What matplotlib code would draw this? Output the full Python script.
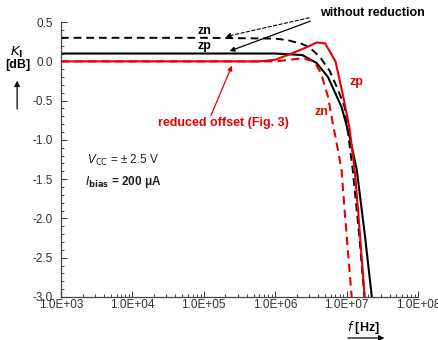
#!/usr/bin/env python3
# -*- coding: utf-8 -*-
"""Frequency response K_I of the zn / zp outputs, with and without offset reduction."""

import matplotlib
matplotlib.use("Agg")
import matplotlib.pyplot as plt
from matplotlib.ticker import FixedLocator, MultipleLocator, LogLocator, NullFormatter

plt.rcParams['font.family'] = ['Liberation Sans', 'DejaVu Sans']

# --- data ---
# black dashed: zn, without reduction
f_zn_plain = [1e3, 1e5, 1e6, 1.5e6, 2.4e6, 3.0e6, 4.2e6, 5.8e6, 7.5e6, 9.4e6, 1.22e7, 1.5e7, 1.78e7]
k_zn_plain = [0.30, 0.30, 0.29, 0.27, 0.22, 0.18, 0.06, -0.12, -0.35, -0.58, -1.38, -2.2, -3.0]
# black solid: zp, without reduction
f_zp_plain = [1e3, 1e5, 1e6, 1.6e6, 2.4e6, 3.8e6, 5.5e6, 8.5e6, 1.1e7, 1.39e7, 1.8e7, 2.26e7]
k_zp_plain = [0.10, 0.10, 0.10, 0.09, 0.08, -0.02, -0.20, -0.58, -0.95, -1.38, -2.2, -3.0]
# red solid: zp, reduced offset
f_zp_red = [1e3, 1e5, 6e5, 1.0e6, 1.7e6, 2.6e6, 3.8e6, 5.0e6, 7.0e6, 9.0e6, 1.1e7, 1.3e7, 1.45e7, 1.8e7]
k_zp_red = [0.0, 0.0, 0.0, 0.02, 0.10, 0.17, 0.24, 0.23, 0.0, -0.45, -0.85, -1.38, -1.9, -3.0]
# red dashed: zn, reduced offset
f_zn_red = [1e3, 1e5, 1e6, 1.6e6, 2.4e6, 3.5e6, 4.4e6, 5.5e6, 6.3e6, 7.3e6, 8.5e6, 9.4e6, 1.18e7]
k_zn_red = [0.0, 0.0, 0.0, 0.02, 0.04, 0.0, -0.15, -0.45, -0.75, -1.05, -1.38, -1.9, -3.0]

x_ticks = [1e3, 1e4, 1e5, 1e6, 1e7, 1e8]
x_tick_labels = ["1.0E+03", "1.0E+04", "1.0E+05", "1.0E+06", "1.0E+07", "1.0E+08"]
y_ticks = [0.5, 0.0, -0.5, -1.0, -1.5, -2.0, -2.5, -3.0]
y_tick_labels = ["0.5", "0.0", "-0.5", "-1.0", "-1.5", "-2.0", "-2.5", "-3.0"]

RED = '#e60000'


def main():
    fig = plt.figure(figsize=(4.39, 3.40), dpi=100)
    ax = fig.add_axes([0.139, 0.1265, 0.813, 0.8085])

    dash = (0, (4, 2.5))
    ax.plot(f_zn_plain, k_zn_plain, color='black', lw=1.4, linestyle=dash)
    ax.plot(f_zp_plain, k_zp_plain, color='black', lw=1.5)
    ax.plot(f_zn_red, k_zn_red, color=RED, lw=1.5, linestyle=dash)
    ax.plot(f_zp_red, k_zp_red, color=RED, lw=1.5)

    ax.set_xscale('log')
    ax.set_xlim(1e3, 1e8)
    ax.set_ylim(-3.0, 0.5)
    ax.xaxis.set_major_locator(FixedLocator(x_ticks))
    ax.set_xticklabels(x_tick_labels)
    ax.xaxis.set_minor_locator(LogLocator(base=10, subs=range(2, 10)))
    ax.xaxis.set_minor_formatter(NullFormatter())
    ax.set_yticks(y_ticks)
    ax.set_yticklabels(y_tick_labels)
    ax.yaxis.set_minor_locator(MultipleLocator(0.1))

    for side in ('top', 'right'):
        ax.spines[side].set_visible(False)
    for side in ('left', 'bottom'):
        ax.spines[side].set_color('#444444')
        ax.spines[side].set_linewidth(0.9)
    ax.tick_params(which='major', direction='in', length=4, width=0.8,
                   color='#444444', labelsize=8.5, labelcolor='#333333')
    ax.tick_params(which='minor', direction='in', length=2.5, width=0.7, color='#444444')
    ax.tick_params(axis='y', pad=6)
    ax.tick_params(axis='x', pad=1.5)

    # labels of the curves
    t = ax.transAxes
    ax.text(0.401, 0.967, "zn", transform=t, ha='center', va='center',
            fontsize=9, fontweight='bold')
    ax.text(0.401, 0.913, "zp", transform=t, ha='center', va='center',
            fontsize=9, fontweight='bold')
    ax.text(0.7255, 1.033, "without reduction", transform=t, ha='left', va='center',
            fontsize=9, fontweight='bold', clip_on=False)
    ax.annotate("", xy=(0.454, 0.945), xytext=(0.703, 1.018), xycoords=t, textcoords=t,
                arrowprops=dict(arrowstyle='-|>', color='black', lw=0.8,
                                linestyle=(0, (3, 2)), mutation_scale=7))
    ax.annotate("", xy=(0.465, 0.891), xytext=(0.706, 1.007), xycoords=t, textcoords=t,
                arrowprops=dict(arrowstyle='-|>', color='black', lw=0.9, mutation_scale=7))

    ax.text(0.272, 0.633, "reduced offset (Fig. 3)", transform=t, ha='left', va='center',
            fontsize=9, fontweight='bold', color=RED)
    ax.annotate("", xy=(0.482, 0.851), xytext=(0.417, 0.651), xycoords=t, textcoords=t,
                arrowprops=dict(arrowstyle='-|>', color=RED, lw=0.9, mutation_scale=7))
    ax.text(0.829, 0.782, "zp", transform=t, ha='center', va='center',
            fontsize=9, fontweight='bold', color=RED)
    ax.text(0.731, 0.673, "zn", transform=t, ha='center', va='center',
            fontsize=9, fontweight='bold', color=RED)

    ax.text(0.073, 0.498, r"$V_{\mathrm{CC}}$ = ± 2.5 V", transform=t, ha='left',
            va='center', fontsize=8.5, color='#222222')
    ax.text(0.067, 0.418, r"$\mathbf{\mathit{I}_{bias}}$ = 200 μA", transform=t, ha='left',
            va='center', fontsize=8.5, fontweight='bold', color='#222222')

    # axis labels with arrows
    fig.text(0.039, 0.847, r"$\mathbf{\mathit{K}_{I}}$", ha='center', va='center', fontsize=9.5)
    fig.text(0.041, 0.810, "[dB]", ha='center', va='center', fontsize=9, fontweight='bold')
    fig.add_artist(matplotlib.patches.FancyArrowPatch(
        (0.039, 0.671), (0.039, 0.771), transform=fig.transFigure,
        arrowstyle='-|>', mutation_scale=8, color='black', lw=0.9))

    fig.text(0.827, 0.038, r"$\mathit{f}$ [Hz]", ha='center', va='center',
             fontsize=9, fontweight='bold')
    fig.add_artist(matplotlib.patches.FancyArrowPatch(
        (0.786, 0.006), (0.882, 0.006), transform=fig.transFigure,
        arrowstyle='-|>', mutation_scale=8, color='black', lw=0.9))

    fig.savefig("out.png", dpi=100)
    plt.close(fig)


if __name__ == "__main__":
    main()
